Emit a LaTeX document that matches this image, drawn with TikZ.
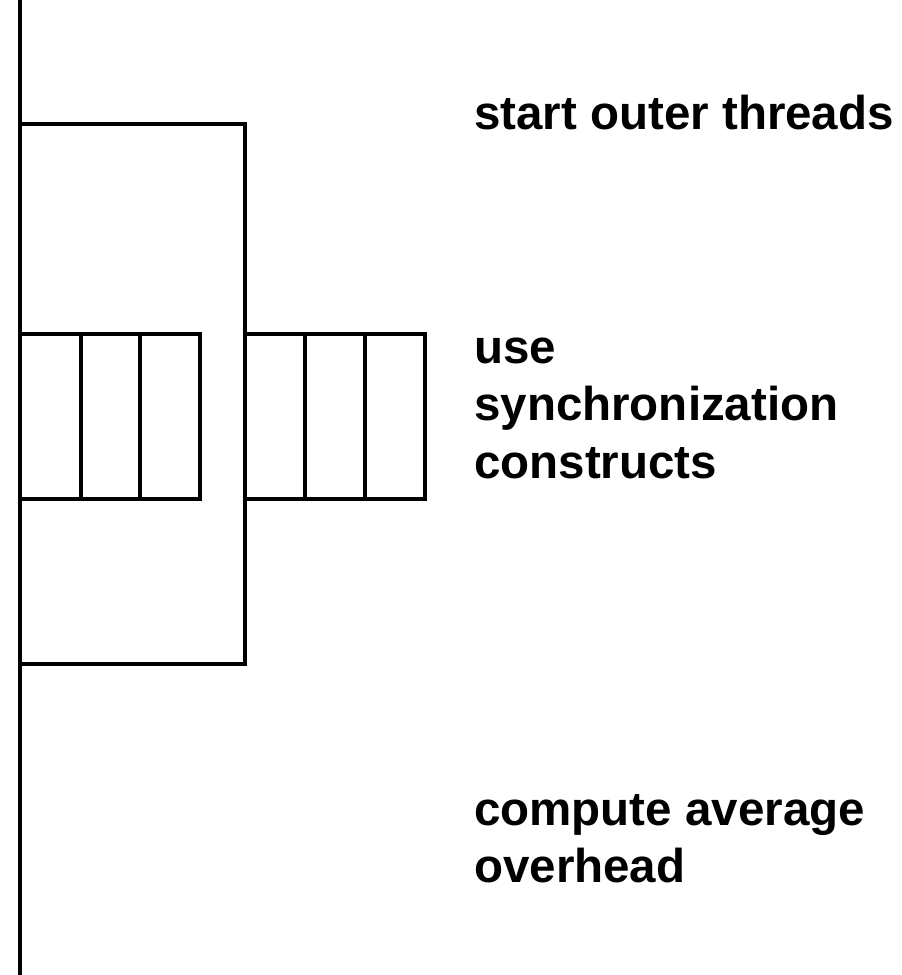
\documentclass[tikz,border=0pt]{standalone}
\usepackage{fontspec}
\setmainfont{Liberation Sans}
\begin{document}
\begin{tikzpicture}[x=1pt,y=-1pt,
  edge/.style={line width=4pt,line cap=rect},
  lbl/.style={inner sep=0pt,anchor=base west,font=\fontsize{47.5}{56}\selectfont\bfseries}]
\useasboundingbox (0,0) rectangle (902,975);
% main timeline
\coordinate (ttop) at (20,0);
\coordinate (tbot) at (20,975);
\draw[line width=4pt] (ttop) -- (tbot);
% outer parallel region
\coordinate (otl) at (20,124);
\coordinate (otr) at (244.5,124);
\coordinate (obr) at (244.5,664);
\coordinate (obl) at (20,664);
\draw[edge] (otl) -- (otr) -- (obr) -- (obl);
% left group of inner threads
\draw[edge] (20,334) -- (200,334) -- (200,499) -- (20,499);
\draw[edge] (80.5,334) -- (80.5,499);
\draw[edge] (140,334) -- (140,499);
% right group of inner threads
\draw[edge] (244.5,334) -- (425,334) -- (425,499) -- (244.5,499);
\draw[edge] (305,334) -- (305,499);
\draw[edge] (365,334) -- (365,499);
% labels
\node[lbl] (l1) at (474,129) {start outer threads};
\node[lbl] (l2a) at (474,363) {use};
\node[lbl] (l2b) at (474,420) {synchronization};
\node[lbl] (l2c) at (474,478) {constructs};
\node[lbl] (l3a) at (474,825) {compute average};
\node[lbl] (l3b) at (474,882) {overhead};
\end{tikzpicture}
\end{document}
